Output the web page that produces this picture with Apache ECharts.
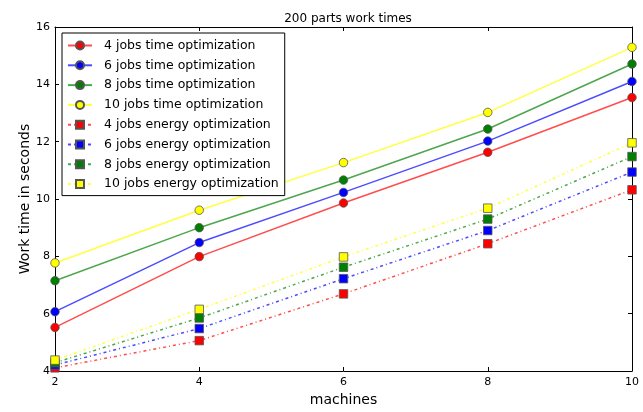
<!DOCTYPE html>
<html><head><meta charset="utf-8">
<script src="https://cdn.jsdelivr.net/npm/echarts@6/dist/echarts.min.js"></script>
<style>html,body{margin:0;padding:0;background:#fff}#c{width:643px;height:412px}</style>
</head><body><div id="c"></div>
<script>
var machines = [2, 4, 6, 8, 10];
var yTicks = [4, 6, 8, 10, 12, 14, 16];
var names = ['4 jobs time optimization','6 jobs time optimization','8 jobs time optimization','10 jobs time optimization',
  '4 jobs energy optimization','6 jobs energy optimization','8 jobs energy optimization','10 jobs energy optimization'];
var time4 = [5.52, 7.99, 9.86, 11.63, 13.54];
var time6 = [6.07, 8.48, 10.23, 12.02, 14.10];
var time8 = [7.15, 9.00, 10.66, 12.44, 14.71];
var time10 = [7.77, 9.61, 11.27, 13.02, 15.29];
var energy4 = [4.11, 5.06, 6.69, 8.44, 10.32];
var energy6 = [4.21, 5.48, 7.22, 8.90, 10.94];
var energy8 = [4.29, 5.85, 7.62, 9.30, 11.48];
var energy10 = [4.38, 6.15, 7.98, 9.68, 11.96];

var colors = ['#ff0000','#0000ff','#008000','#ffff00'];
var lineColors = ['rgba(255,0,0,0.7)','rgba(0,0,255,0.7)','rgba(0,128,0,0.7)','rgba(255,255,0,0.75)'];
var allData = [time4, time6, time8, time10, energy4, energy6, energy8, energy10];

function pairs(arr){ return machines.map(function(m,i){ return [m, arr[i]]; }); }

var series = allData.map(function(d, i){
  var k = i % 4, energy = i >= 4;
  return {
    name: names[i], type: 'line', data: pairs(d),
    symbol: energy ? 'rect' : 'circle', symbolSize: 8.5,
    itemStyle: { color: colors[k], borderColor: '#555', borderWidth: 0.8, opacity: 1 },
    lineStyle: { color: lineColors[k], width: 1.5, type: energy ? [3,3,1,3] : 'solid' },
    emphasis: { disabled: true }, animation: false, z: energy ? 2 : 3
  };
});

var font = 'DejaVu Sans';
var option = {
  animation: false,
  title: { text: '200 parts work times', left: 343, top: 8, textAlign: 'center',
    textStyle: { fontFamily: font, fontSize: 12, fontWeight: 'normal', color: '#000' } },
  grid: { left: 55, right: 11, top: 27, bottom: 37 },
  legend: {
    orient: 'vertical', left: 62, top: 33, data: names,
    backgroundColor: '#fff', borderColor: '#000', borderWidth: 1, borderRadius: 0,
    padding: [5, 6, 4, 5], itemWidth: 24, itemHeight: 10, itemGap: 4.8,
    textStyle: { fontFamily: font, fontSize: 12.5, color: '#000', lineHeight: 15, padding: [0, 0, 0, 7] }
  },
  xAxis: [{
    type: 'value', min: 2, max: 10, interval: 2,
    name: 'machines', nameLocation: 'middle', nameGap: 22,
    nameTextStyle: { fontFamily: font, fontSize: 14, color: '#000' },
    axisLine: { lineStyle: { color: '#000', width: 1 } },
    axisTick: { inside: true, length: 4, lineStyle: { color: '#000' } },
    axisLabel: { fontFamily: font, fontSize: 11, color: '#000', margin: 6 },
    splitLine: { show: false }
  }, {
    type: 'value', min: 2, max: 10, interval: 2, position: 'top',
    axisLine: { lineStyle: { color: '#000', width: 1 } },
    axisTick: { inside: true, length: 4, lineStyle: { color: '#000' } },
    axisLabel: { show: false }, splitLine: { show: false }
  }],
  yAxis: [{
    type: 'value', min: 4, max: 16, interval: 2,
    name: 'Work time in seconds', nameLocation: 'middle', nameGap: 23, nameMoveOverlap: false,
    nameTextStyle: { fontFamily: font, fontSize: 14, color: '#000' },
    axisLine: { show: true, lineStyle: { color: '#000', width: 1 } },
    axisTick: { show: true, inside: true, length: 4, lineStyle: { color: '#000' } },
    axisLabel: { fontFamily: font, fontSize: 11, color: '#000', margin: 5 },
    splitLine: { show: false }
  }, {
    type: 'value', min: 4, max: 16, interval: 2, position: 'right',
    axisLine: { show: true, lineStyle: { color: '#000', width: 1 } },
    axisTick: { show: true, inside: true, length: 4, lineStyle: { color: '#000' } },
    axisLabel: { show: false }, splitLine: { show: false }
  }],
  series: series
};
var chart = echarts.init(document.getElementById('c'));
chart.setOption(option);
</script></body></html>
